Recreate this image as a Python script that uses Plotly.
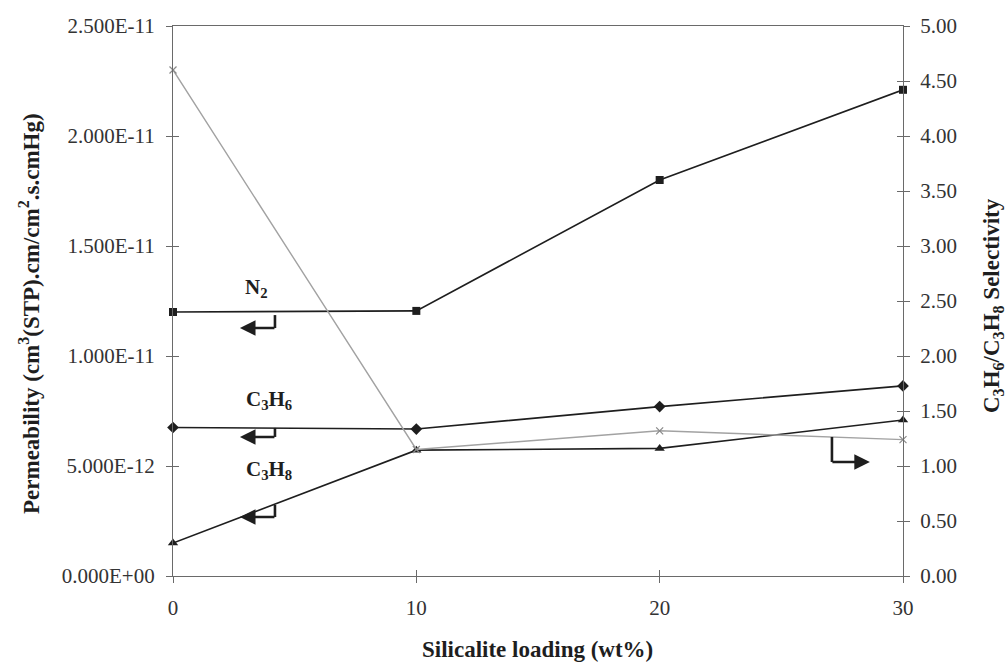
import plotly.graph_objects as go

# Silicalite loading (wt%)
loading = [0, 10, 20, 30]

# Gas permeabilities, cm3(STP).cm/cm2.s.cmHg
perm_n2 = [1.20e-11, 1.205e-11, 1.80e-11, 2.21e-11]
perm_c3h6 = [6.75e-12, 6.68e-12, 7.70e-12, 8.64e-12]
perm_c3h8 = [1.50e-12, 5.72e-12, 5.80e-12, 7.09e-12]

# C3H6/C3H8 ideal selectivity
selectivity = [4.60, 1.15, 1.32, 1.24]

# Axis ticks
x_ticks = [0, 10, 20, 30]
perm_ticks = [0, 5e-12, 1e-11, 1.5e-11, 2e-11, 2.5e-11]
perm_tick_text = ["0.000E+00", "5.000E-12", "1.000E-11", "1.500E-11", "2.000E-11", "2.500E-11"]
sel_ticks = [0, 0.5, 1.0, 1.5, 2.0, 2.5, 3.0, 3.5, 4.0, 4.5, 5.0]
sel_tick_text = ["0.00", "0.50", "1.00", "1.50", "2.00", "2.50", "3.00", "3.50", "4.00", "4.50", "5.00"]

FONT = "Liberation Serif, Times New Roman, serif"
INK = "#1e1e1e"
AXIS = "#6a6a6a"
W, H = 1008, 662
L, R, T, B = 173, 105, 26, 86


def px(xp, yp):
    """Pixel position -> paper coordinates."""
    return (xp - L) / (W - L - R), (H - B - yp) / (H - T - B)


fig = go.Figure()

line_style = dict(color=INK, width=1.6)
fig.add_trace(go.Scatter(x=loading, y=perm_n2, mode="lines+markers", name="N2",
                         line=line_style, marker=dict(symbol="square", size=8, color=INK),
                         cliponaxis=False))
fig.add_trace(go.Scatter(x=loading, y=perm_c3h6, mode="lines+markers", name="C3H6",
                         line=line_style, marker=dict(symbol="diamond", size=9, color=INK),
                         cliponaxis=False))
fig.add_trace(go.Scatter(x=loading, y=perm_c3h8, mode="lines+markers", name="C3H8",
                         line=line_style, marker=dict(symbol="triangle-up", size=9, color=INK),
                         cliponaxis=False))
fig.add_trace(go.Scatter(x=loading, y=selectivity, mode="lines+markers", name="Selectivity",
                         yaxis="y2", line=dict(color="#a2a2a2", width=1.4),
                         marker=dict(symbol="x-thin", size=7, color="#8a8a8a",
                                     line=dict(width=1.2, color="#8a8a8a")),
                         cliponaxis=False))

# Empty traces that bind the overlay axes used for the inward half of the cross ticks
fig.add_trace(go.Scatter(x=[], y=[], xaxis="x2", yaxis="y3", showlegend=False, hoverinfo="skip"))
fig.add_trace(go.Scatter(x=[], y=[], xaxis="x", yaxis="y4", showlegend=False, hoverinfo="skip"))

tick_font = dict(family=FONT, size=21, color="#333333")
fig.update_layout(
    width=W, height=H,
    margin=dict(l=L, r=R, t=T, b=B),
    paper_bgcolor="white", plot_bgcolor="white",
    showlegend=False,
    xaxis=dict(range=[0, 30], tickvals=x_ticks, ticks="outside", ticklen=6, tickcolor=AXIS,
               showline=True, linecolor=AXIS, linewidth=1.2, mirror=True, showgrid=False,
               zeroline=False, tickfont=tick_font, ticklabelstandoff=7),
    xaxis2=dict(range=[0, 30], tickvals=x_ticks, ticks="inside", ticklen=6, tickcolor=AXIS,
                overlaying="x", anchor="y", showticklabels=False, showline=False,
                showgrid=False, zeroline=False),
    yaxis=dict(range=[0, 2.5e-11], tickvals=perm_ticks, ticktext=perm_tick_text,
               ticks="outside", ticklen=6, tickcolor=AXIS, showline=True, linecolor=AXIS,
               linewidth=1.2, showgrid=False, zeroline=False, tickfont=tick_font,
               ticklabelstandoff=7),
    yaxis3=dict(range=[0, 2.5e-11], tickvals=perm_ticks, ticks="inside", ticklen=6,
                tickcolor=AXIS, overlaying="y", anchor="x", showticklabels=False,
                showline=False, showgrid=False, zeroline=False),
    yaxis2=dict(range=[0, 5], tickvals=sel_ticks, ticktext=sel_tick_text, side="right",
                overlaying="y", anchor="x", ticks="outside", ticklen=6, tickcolor=AXIS,
                showline=True, linecolor=AXIS, linewidth=1.2, showgrid=False, zeroline=False,
                tickfont=tick_font, ticklabelstandoff=6),
    yaxis4=dict(range=[0, 5], tickvals=sel_ticks, side="right", overlaying="y", anchor="x",
                ticks="inside", ticklen=6, tickcolor=AXIS, showticklabels=False,
                showline=False, showgrid=False, zeroline=False),
)

title_font = dict(family=FONT, size=23, color=INK)
centered = dict(xref="paper", yref="paper", xanchor="center", yanchor="middle",
                showarrow=False, font=title_font)
bx, by = px(537, 649)
fig.add_annotation(text="<b>Silicalite loading (wt%)</b>", x=bx, y=by, **centered)
lx, ly = px(29, 314)
fig.add_annotation(text="<b>Permeability (cm<sup>3</sup>(STP).cm/cm<sup>2</sup>.s.cmHg)</b>",
                   x=lx, y=ly, textangle=-90, **centered)
rx, ry = px(993, 306)
fig.add_annotation(text="<b>C<sub>3</sub>H<sub>6</sub>/C<sub>3</sub>H<sub>8</sub> Selectivity</b>",
                   x=rx, y=ry, textangle=-90, **centered)

# Series labels
label_font = dict(family=FONT, size=21, color=INK)
for text, xv, yv in [("<b>N<sub>2</sub></b>", 3.45, 1.31e-11),
                     ("<b>C<sub>3</sub>H<sub>6</sub></b>", 3.95, 8.0e-12),
                     ("<b>C<sub>3</sub>H<sub>8</sub></b>", 3.95, 4.8e-12)]:
    fig.add_annotation(text=text, x=xv, y=yv, xref="x", yref="y", showarrow=False,
                       xanchor="center", yanchor="middle", font=label_font)

# Bent arrows pointing to the axis each curve belongs to
arrow_kw = dict(showarrow=True, arrowhead=2, arrowsize=1.2, arrowwidth=2.6,
                arrowcolor=INK, text="", axref="pixel", ayref="pixel", ay=0)
for y_top, y_bend in [(1.186e-11, 1.127e-11), (6.73e-12, 6.32e-12), (3.23e-12, 2.68e-12)]:
    fig.add_shape(type="line", x0=4.19, x1=4.19, y0=y_top, y1=y_bend, xref="x", yref="y",
                  line=dict(color=INK, width=2.6))
    fig.add_annotation(x=2.75, y=y_bend, xref="x", yref="y", ax=36, **arrow_kw)

fig.add_shape(type="line", x0=27.08, x1=27.08, y0=1.264, y1=1.036, xref="x", yref="y2",
              line=dict(color=INK, width=2.6))
fig.add_annotation(x=28.64, y=1.036, xref="x", yref="y2", ax=-39, **arrow_kw)

fig.write_html("out.html")
